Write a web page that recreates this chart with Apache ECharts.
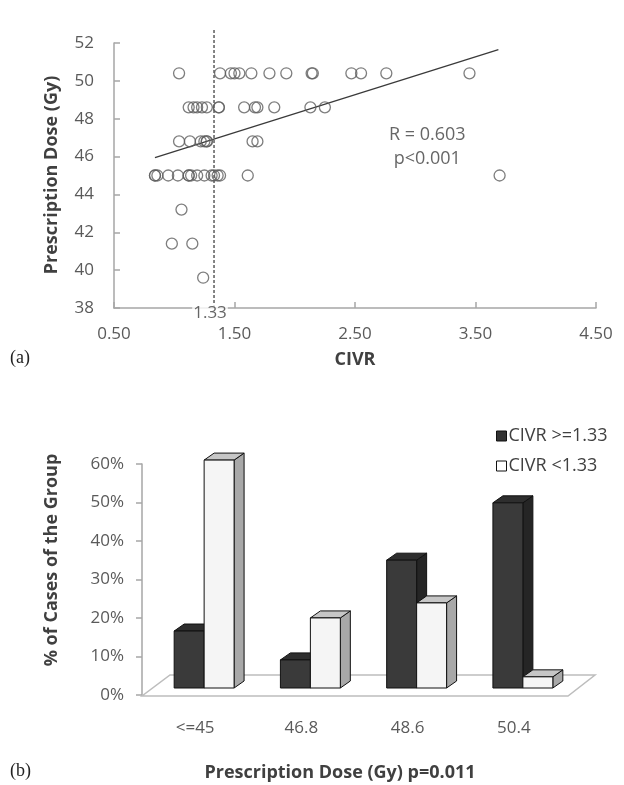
<!DOCTYPE html>
<html><head><meta charset="utf-8">
<script src="https://cdn.jsdelivr.net/npm/echarts@6/dist/echarts.min.js"></script>
<style>html,body{margin:0;padding:0;background:#fff}#c{width:624px;height:785px}</style>
</head><body><div id="c"></div>
<script>
// ---------- Panel (a) data ----------
const civrMin = 0.5, civrMax = 4.5, civrStep = 1;
const doseMin = 38, doseMax = 52, doseStep = 2;
const scatterCIVR = [
  1.04,1.38,1.47,1.50,1.54,1.64,1.79,1.93,2.14,2.15,2.47,2.55,2.76,3.45,
  1.12,1.16,1.19,1.23,1.27,1.37,1.37,1.58,1.67,1.69,1.83,2.13,2.25,
  1.04,1.13,1.22,1.25,1.27,1.27,1.65,1.69,
  0.84,0.84,0.86,0.95,1.03,1.12,1.12,1.14,1.19,1.25,1.31,1.33,1.36,1.38,1.61,3.70,
  1.06,
  0.98,1.15,
  1.24
];
const scatterDose = [
  50.4,50.4,50.4,50.4,50.4,50.4,50.4,50.4,50.4,50.4,50.4,50.4,50.4,50.4,
  48.6,48.6,48.6,48.6,48.6,48.6,48.6,48.6,48.6,48.6,48.6,48.6,48.6,
  46.8,46.8,46.8,46.8,46.8,46.8,46.8,46.8,
  45,45,45,45,45,45,45,45,45,45,45,45,45,45,45,45,
  43.2,
  41.4,41.4,
  39.6
];
const trendCIVR = [0.84, 3.69];
const trendDose = [45.94, 51.65];
const cutoffCIVR = 1.33;
const cutoffDose = [38, 52.7];
const statLabels = ['R = 0.603', 'p<0.001'];
const statCIVR = [3.1, 3.1];
const statDose = [47.15, 45.9];

// ---------- Panel (b) data ----------
const doseCategories = ['<=45', '46.8', '48.6', '50.4'];
const pctHigh = [14.8, 7.3, 33.2, 48.1];   // CIVR >=1.33
const pctLow  = [59.2, 18.2, 22.1, 2.9];   // CIVR <1.33
const pctMin = 0, pctMax = 60, pctStep = 10;
const legendNames = ['CIVR >=1.33', 'CIVR <1.33'];

const FONT = 'Open Sans';
const tickColor = '#5a5a5a';
const axisColor = '#a6a6a6';
const TICK_FS = 17;

const chart = echarts.init(document.getElementById('c'), null, {renderer: 'canvas'});

const DX = 10, DY = -7, LIFT = 7, BAR_FRAC = 0.282;
function barRenderer(isLight, cols) {
  return function (params, api) {
    const idx = api.value(0), v = api.value(1);
    const base = api.coord([idx, 0]);
    const top = api.coord([idx, v]);
    const w = api.size([1, 0])[0] * BAR_FRAC;
    const x0 = isLight ? base[0] : base[0] - w;
    const x1 = x0 + w;
    const yb = base[1] - LIFT, yt = top[1] - LIFT;
    const st = {stroke: '#111', lineWidth: 1, lineJoin: 'round'};
    return {
      type: 'group',
      children: [
        {type: 'polygon', shape: {points: [[x1, yt], [x1 + DX, yt + DY], [x1 + DX, yb + DY], [x1, yb]]},
          style: Object.assign({fill: cols.side}, st)},
        {type: 'polygon', shape: {points: [[x0, yt], [x1, yt], [x1 + DX, yt + DY], [x0 + DX, yt + DY]]},
          style: Object.assign({fill: cols.top}, st)},
        {type: 'rect', shape: {x: x0, y: yt, width: w, height: yb - yt},
          style: Object.assign({fill: cols.front}, st)}
      ]
    };
  };
}

function floorRenderer(params, api) {
  const cs = params.coordSys;
  const y0 = api.coord([0, 0])[1] + 1;
  const depth = 21, ddx = 27;
  const xl = cs.x - 9, xr = cs.x + cs.width - 8;
  return {
    type: 'polygon',
    shape: {points: [[xl, y0], [xr, y0], [xr + ddx, y0 - depth], [xl + ddx + 1, y0 - depth]]},
    style: {fill: '#fff', stroke: '#bdbdbd', lineWidth: 1.5}
  };
}

const option = {
  backgroundColor: '#fff',
  animation: false,
  textStyle: {fontFamily: FONT},
  grid: [
    {left: 114, right: 28, top: 43, height: 265},
    {left: 151, width: 425, top: 464, height: 231}
  ],
  xAxis: [
    {
      gridIndex: 0, type: 'value', min: civrMin, max: civrMax, interval: civrStep,
      name: 'CIVR', nameLocation: 'middle', nameGap: 43,
      nameTextStyle: {fontFamily: FONT, fontSize: 18, fontWeight: 'bold', color: '#404040'},
      axisLine: {lineStyle: {color: axisColor, width: 1.5}},
      axisTick: {inside: true, length: 6, lineStyle: {color: axisColor, width: 1.5}},
      splitLine: {show: false},
      axisLabel: {margin: 18, fontSize: TICK_FS, color: tickColor, fontFamily: FONT,
        formatter: v => v.toFixed(2)}
    },
    {
      gridIndex: 1, type: 'category', data: doseCategories,
      axisLine: {show: false}, axisTick: {show: false},
      axisLabel: {margin: 25, fontSize: TICK_FS, color: tickColor, fontFamily: FONT, padding: [0, 18, 0, 0]}
    }
  ],
  yAxis: [
    {
      gridIndex: 0, type: 'value', min: doseMin, max: doseMax, interval: doseStep,
      axisLine: {show: true, lineStyle: {color: axisColor, width: 1.5}},
      axisTick: {show: true, inside: true, length: 6, lineStyle: {color: axisColor, width: 1.5}},
      splitLine: {show: false},
      axisLabel: {margin: 20, fontSize: TICK_FS, color: tickColor, fontFamily: FONT}
    },
    {
      gridIndex: 1, type: 'value', min: pctMin, max: pctMax, interval: pctStep, offset: 9,
      axisLine: {show: true, lineStyle: {color: axisColor, width: 1.5}},
      axisTick: {show: true, inside: false, length: 6, lineStyle: {color: axisColor, width: 1.5}},
      splitLine: {show: false},
      axisLabel: {margin: 18, fontSize: TICK_FS, color: tickColor, fontFamily: FONT, formatter: v => v + '%'}
    }
  ],
  legend: {
    orient: 'vertical', left: 491, top: 422, itemWidth: 10, itemHeight: 10, itemGap: 12,
    textStyle: {fontFamily: FONT, fontSize: 18, color: '#404040', padding: [0, 0, 0, -3]},
    data: [
      {name: legendNames[0], icon: 'rect', itemStyle: {color: '#333', borderColor: '#111', borderWidth: 1}},
      {name: legendNames[1], icon: 'rect', itemStyle: {color: '#fff', borderColor: '#111', borderWidth: 1}}
    ]
  },
  graphic: [
    {type: 'text', left: 10, top: 349, style: {text: '(a)', font: '18px "Liberation Serif"', fill: '#222'}},
    {type: 'text', left: 10, top: 762, style: {text: '(b)', font: '18px "Liberation Serif"', fill: '#222'}},
    {type: 'text', x: 52, y: 175, rotation: Math.PI / 2,
      style: {text: 'Prescription Dose (Gy)', font: 'bold 18px "Open Sans"', fill: '#404040', align: 'center', verticalAlign: 'middle'}},
    {type: 'text', x: 52, y: 560, rotation: Math.PI / 2,
      style: {text: '% of Cases of the Group', font: 'bold 18px "Open Sans"', fill: '#404040', align: 'center', verticalAlign: 'middle'}},
    {type: 'text', x: 340, y: 773,
      style: {text: 'Prescription Dose (Gy) p=0.011', font: 'bold 18px "Open Sans"', fill: '#404040', align: 'center', verticalAlign: 'middle'}}
  ],
  series: [
    {
      type: 'scatter', xAxisIndex: 0, yAxisIndex: 0, symbol: 'circle', symbolSize: 11,
      itemStyle: {color: 'rgba(0,0,0,0)', borderColor: '#5e5e5e', borderWidth: 1.3},
      data: scatterCIVR.map((x, i) => [x, scatterDose[i]]), z: 3
    },
    {
      type: 'line', xAxisIndex: 0, yAxisIndex: 0, symbol: 'none',
      lineStyle: {color: '#3a3a3a', width: 1.3},
      data: trendCIVR.map((x, i) => [x, trendDose[i]]), z: 2
    },
    {
      type: 'line', xAxisIndex: 0, yAxisIndex: 0, symbol: 'none', clip: false,
      lineStyle: {color: '#333', width: 1.2, type: [3, 2]},
      data: cutoffDose.map(y => [cutoffCIVR, y]), z: 2
    },
    {
      type: 'scatter', xAxisIndex: 0, yAxisIndex: 0, symbolSize: 0, clip: false, z: 6,
      label: {show: true, position: 'inside', offset: [-4, 5], formatter: () => cutoffCIVR.toFixed(2),
        fontFamily: FONT, fontSize: TICK_FS, color: '#404040', backgroundColor: '#fff', padding: [0, 1]},
      data: [[cutoffCIVR, doseMin]]
    },
    {
      type: 'scatter', xAxisIndex: 0, yAxisIndex: 0, symbolSize: 0, z: 6,
      label: {show: true, position: 'inside', formatter: p => statLabels[p.dataIndex],
        fontFamily: FONT, fontSize: 18, color: '#404040'},
      data: statCIVR.map((x, i) => [x, statDose[i]])
    },
    {
      type: 'custom', xAxisIndex: 1, yAxisIndex: 1, renderItem: floorRenderer,
      data: [[0, 0]], silent: true, z: 1
    },
    {
      type: 'custom', name: legendNames[0], xAxisIndex: 1, yAxisIndex: 1, z: 2,
      itemStyle: {color: '#333'},
      renderItem: barRenderer(false, {front: '#3a3a3a', top: '#2e2e2e', side: '#252525'}),
      encode: {x: 0, y: 1},
      data: pctHigh.map((v, i) => [i, v])
    },
    {
      type: 'custom', name: legendNames[1], xAxisIndex: 1, yAxisIndex: 1, z: 3,
      itemStyle: {color: '#fff'},
      renderItem: barRenderer(true, {front: '#f5f5f5', top: '#c6c6c6', side: '#a8a8a8'}),
      encode: {x: 0, y: 1},
      data: pctLow.map((v, i) => [i, v])
    }
  ]
};
chart.setOption(option);
</script>
</body></html>
